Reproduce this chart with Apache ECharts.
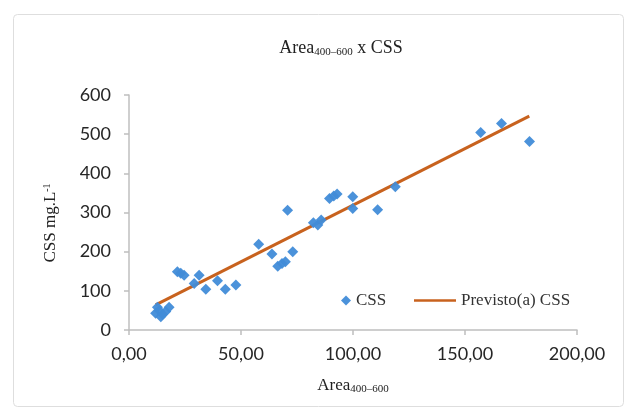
<!DOCTYPE html>
<html>
<head>
<meta charset="utf-8">
<script src="https://cdn.jsdelivr.net/npm/echarts@6/dist/echarts.min.js"></script>
<style>html,body{margin:0;padding:0;background:#fff}#c{width:627px;height:410px}</style>
</head>
<body>
<div id="c"></div>
<script>
// Observed data (Area400-600 vs CSS)
var areaX = [11.9, 12.7, 13.5, 14.2, 15.0, 16.4, 17.9, 21.6, 23.1, 24.6, 29.1, 31.3, 34.3, 39.5, 43.0, 47.7,
             57.9, 63.8, 66.4, 68.3, 69.8, 70.8, 73.1, 82.3, 84.3, 85.8, 89.5, 91.4, 92.9, 99.9, 99.9,
             111.0, 118.9, 157.0, 166.3, 178.8];
var cssY  = [43, 58, 50, 34, 40, 47, 58, 149, 145, 140, 119, 140, 104, 126, 104, 115,
             219, 194, 163, 170, 174, 306, 200, 274, 268, 281, 336, 342, 347, 340, 310,
             307, 366, 504, 527, 481];
// Predicted (trend) line endpoints
var lineX = [11.9, 178.7];
var lineY = [64, 546];
var xTicks = [0, 50, 100, 150, 200];
var yTicks = [0, 100, 200, 300, 400, 500, 600];

var scatterData = areaX.map(function (x, i) { return [x, cssY[i]]; });
var lineData = lineX.map(function (x, i) { return [x, lineY[i]]; });

var chart = echarts.init(document.getElementById('c'));
var serif = 'Liberation Serif';
var sans = 'Lato';
var blue = '#418cd8';
var orange = '#c8621e';
chart.setOption({
  animation: false,
  backgroundColor: '#fff',
  graphic: [
    {
      type: 'rect', left: 11, top: 12, shape: { width: 610, height: 392, r: 4 },
      style: { fill: 'none', stroke: '#dedede', lineWidth: 1 }, silent: true, z: -1
    },
    {
      type: 'text', x: 51, y: 223, rotation: Math.PI / 2, silent: true,
      style: {
        text: '{m|CSS mg.L}{p|-1}', align: 'center', verticalAlign: 'middle',
        rich: {
          m: { fontFamily: serif, fontSize: 17, fill: '#222', color: '#222' },
          p: { fontFamily: serif, fontSize: 10, fill: '#222', color: '#222', padding: [0, 0, 8, 0] }
        }
      }
    }
  ],
  title: {
    text: '{m|Area}{s|400–600}{m| x CSS}',
    left: 336, top: 34, textAlign: 'center',
    textStyle: {
      fontWeight: 'normal',
      rich: {
        m: { fontFamily: serif, fontSize: 18, color: '#222', fontWeight: 'normal' },
        s: { fontFamily: serif, fontSize: 11, color: '#222', fontWeight: 'normal', padding: [8, 0, 0, 0] }
      }
    }
  },
  grid: { left: 129, right: 50, top: 95, bottom: 80 },
  xAxis: {
    type: 'value', min: 0, max: 200, interval: 50,
    name: '{m|Area}{s|400–600}', nameLocation: 'middle', nameGap: 46,
    nameTextStyle: {
      rich: {
        m: { fontFamily: serif, fontSize: 17, color: '#222' },
        s: { fontFamily: serif, fontSize: 11, color: '#222', padding: [8, 0, 0, 0] }
      }
    },
    axisLine: { show: true, lineStyle: { color: '#bfbfbf', width: 1.5 } },
    axisTick: { show: true, length: 5, lineStyle: { color: '#bfbfbf', width: 1.5 } },
    splitLine: { show: false },
    axisLabel: {
      fontFamily: sans, fontSize: 18, color: '#262626', margin: 15,
      formatter: function (v) { return xTicks.indexOf(v) >= 0 ? v.toFixed(2).replace('.', ',') : ''; }
    }
  },
  yAxis: {
    type: 'value', min: 0, max: 600, interval: 100,
    axisLine: { show: true, lineStyle: { color: '#bfbfbf', width: 1.5 } },
    axisTick: { show: true, length: 5, lineStyle: { color: '#bfbfbf', width: 1.5 } },
    splitLine: { show: false },
    axisLabel: {
      fontFamily: sans, fontSize: 18, color: '#262626', margin: 18,
      formatter: function (v) { return yTicks.indexOf(v) >= 0 ? String(v) : ''; }
    }
  },
  legend: [
    {
      left: 336, top: 287, itemWidth: 10, itemHeight: 10,
      textStyle: { fontFamily: serif, fontSize: 17, color: '#333' },
      data: [{ name: 'CSS', icon: 'diamond', itemStyle: { color: blue } }]
    },
    {
      left: 409, top: 287, itemWidth: 42, itemHeight: 10, itemGap: 4,
      textStyle: { fontFamily: serif, fontSize: 17, color: '#333' },
      data: [{ name: 'Previsto(a) CSS', icon: 'path://M0,0 L42,0 L42,2.5 L0,2.5 Z', itemStyle: { color: orange } }]
    }
  ],
  series: [
    {
      name: 'Previsto(a) CSS', type: 'line', data: lineData, showSymbol: false, symbol: 'none',
      lineStyle: { color: orange, width: 3 }, itemStyle: { color: orange }, z: 2
    },
    {
      name: 'CSS', type: 'scatter', data: scatterData, symbol: 'diamond', symbolSize: 11,
      itemStyle: { color: blue, opacity: 0.95 }, z: 3
    }
  ]
});
</script>
</body>
</html>
